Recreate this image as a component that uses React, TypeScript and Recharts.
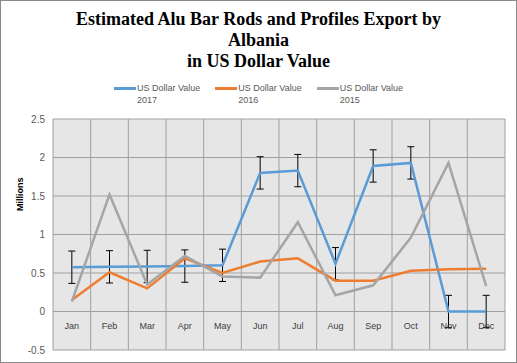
import React from "react";
import {
  ComposedChart,
  Line,
  XAxis,
  YAxis,
  CartesianGrid,
  ErrorBar,
  LabelList,
} from "recharts";

const months = ["Jan", "Feb", "Mar", "Apr", "May", "Jun", "Jul", "Aug", "Sep", "Oct", "Nov", "Dec"];
const usd2017 = [0.575, 0.58, 0.585, 0.59, 0.6, 1.8, 1.83, 0.62, 1.89, 1.93, 0, 0];
const usd2016 = [0.15, 0.51, 0.3, 0.69, 0.5, 0.65, 0.69, 0.4, 0.4, 0.53, 0.55, 0.555];
const usd2015 = [0.13, 1.52, 0.35, 0.72, 0.455, 0.44, 1.16, 0.21, 0.34, 0.96, 1.93, 0.33];
const err2017 = [0.21, 0.21, 0.21, 0.21, 0.21, 0.21, 0.21, 0.21, 0.21, 0.21, 0.21, 0.21];
const yTicks = [-0.5, 0, 0.5, 1, 1.5, 2, 2.5];
const titleLines = ["Estimated Alu Bar Rods and Profiles Export by", "Albania", "in US Dollar Value"];

const series = [
  { key: "v2017", name: "US Dollar Value", year: "2017", color: "#5b9bd5", values: usd2017 },
  { key: "v2016", name: "US Dollar Value", year: "2016", color: "#ed7d31", values: usd2016 },
  { key: "v2015", name: "US Dollar Value", year: "2015", color: "#a5a5a5", values: usd2015 },
];

const data = months.map((m, i) => ({
  x: i + 0.5,
  month: m,
  base: 0,
  v2017: usd2017[i],
  v2016: usd2016[i],
  v2015: usd2015[i],
  err: err2017[i],
}));

const centers = months.map((_, i) => i + 0.5);
const bounds = months.map((_, i) => i).concat([months.length]);

const LegendBlock = () => (
  <div
    style={{
      position: "absolute",
      left: 0,
      top: 82,
      width: 517,
      display: "flex",
      justifyContent: "center",
      gap: 15,
      fontFamily: "'Liberation Sans', Arial, sans-serif",
      fontSize: 9,
      color: "#595959",
      lineHeight: "12px",
      zIndex: 2,
    }}
  >
    {series.map((s) => (
      <div key={s.key} style={{ display: "flex", alignItems: "flex-start" }}>
        <div style={{ width: 22, height: 2.5, background: s.color, marginTop: 5 }} />
        <div style={{ marginLeft: 1, textAlign: "left" }}>
          <div>{s.name}</div>
          <div>{s.year}</div>
        </div>
      </div>
    ))}
  </div>
);

const MonthLabel = (props: any) => {
  const { x, y, value } = props;
  return (
    <text
      x={x}
      y={y + 17}
      textAnchor="middle"
      fontSize={9}
      fill="#404040"
      fontFamily="'Liberation Sans', Arial, sans-serif"
    >
      {value}
    </text>
  );
};

export default function App() {
  return (
    <div style={{ position: "absolute", left: 0, top: 0, width: 517, height: 363, background: "#fff" }}>
      <div
        style={{
          position: "absolute",
          left: 0,
          top: 9,
          width: 517,
          textAlign: "center",
          fontFamily: "'Liberation Serif', 'Times New Roman', serif",
          fontWeight: "bold",
          fontSize: 18,
          lineHeight: "21px",
          color: "#000",
          zIndex: 2,
        }}
      >
        {titleLines.map((t) => (
          <div key={t}>{t}</div>
        ))}
      </div>
      <LegendBlock />
      <div
        style={{
          position: "absolute",
          left: 4,
          top: 189,
          width: 32,
          height: 12,
          transform: "rotate(-90deg)",
          transformOrigin: "16px 6px",
          fontFamily: "'Liberation Sans', Arial, sans-serif",
          fontWeight: "bold",
          fontSize: 9,
          lineHeight: "12px",
          textAlign: "center",
          color: "#000",
          whiteSpace: "nowrap",
          zIndex: 2,
        }}
      >
        Millions
      </div>
      <ComposedChart
        width={517}
        height={363}
        data={data}
        margin={{ top: 119, right: 12, bottom: 13, left: 13 }}
      >
        <CartesianGrid
          fill="#e6e6e6"
          stroke="#a0a0a0"
          strokeWidth={1}
          verticalValues={bounds}
          horizontalValues={yTicks}
        />
        <XAxis dataKey="x" type="number" domain={[0, 12]} ticks={centers} hide />
        <YAxis
          type="number"
          domain={[-0.5, 2.5]}
          ticks={yTicks}
          width={40}
          axisLine={false}
          tickLine={false}
          tick={{ fontSize: 10, fill: "#595959", fontFamily: "'Liberation Sans', Arial, sans-serif" }}
          interval={0}
        />
        <Line
          dataKey="base"
          stroke="none"
          dot={false}
          activeDot={false}
          legendType="none"
          isAnimationActive={false}
        >
          <LabelList dataKey="month" content={<MonthLabel />} />
        </Line>
        {series.map((s) => (
          <Line
            key={s.key}
            dataKey={s.key}
            name={s.name + " " + s.year}
            stroke={s.color}
            strokeWidth={2.5}
            dot={false}
            activeDot={false}
            isAnimationActive={false}
          >
            {s.key === "v2017" ? (
              <ErrorBar dataKey="err" width={3.5} stroke="#000" strokeWidth={1} direction="y" />
            ) : null}
          </Line>
        ))}
      </ComposedChart>
      <div
        style={{
          position: "absolute",
          left: 0,
          top: 0,
          width: 517,
          height: 363,
          boxSizing: "border-box",
          border: "1px solid #8a8a8a",
          pointerEvents: "none",
        }}
      />
    </div>
  );
}
